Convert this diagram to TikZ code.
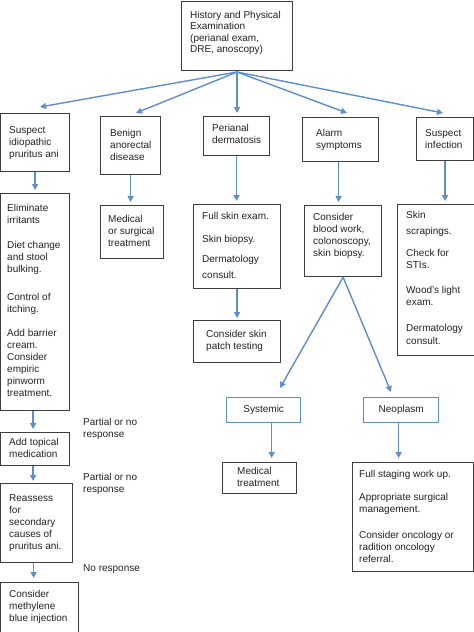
\documentclass[tikz,border=0pt]{standalone}
\usepackage{fontspec}
\setmainfont{Liberation Sans}
\usetikzlibrary{arrows.meta,calc}
\definecolor{arrblue}{RGB}{94,142,204}
\definecolor{bordgray}{RGB}{62,62,62}
\definecolor{txtgray}{RGB}{35,35,35}
\begin{document}
\begin{tikzpicture}[x=1pt,y=-1pt,
  bx/.style={draw=bordgray,line width=1.2pt,inner sep=0pt,anchor=north west},
  bbx/.style={draw=arrblue,line width=1.4pt,inner sep=0pt,anchor=north west},
  txt/.style={anchor=north west,inner sep=0pt,align=left,text=txtgray,font=\fontsize{10}{12}\selectfont},
  ctxt/.style={anchor=center,inner sep=0pt,text=txtgray,font=\fontsize{10}{12}\selectfont},
  arr/.style={draw=arrblue,line width=1.4pt,-{Triangle[length=6pt,width=6pt]}}]
\useasboundingbox (0,0) rectangle (474,632);
\fill[white] (0,0) rectangle (474,632);

% top
\node[bx,minimum width=111pt,minimum height=69pt] (top) at (181,0.6) {};
\node[txt,font=\fontsize{10}{11.3}\selectfont] (ttop) at (190,11) {History and Physical\\Examination\\(perianal exam,\\DRE, anoscopy)};
\coordinate (hub) at (237,72);

% row 1
\node[bx,minimum width=69pt,minimum height=58pt] (idio) at (0,113) {};
\node[txt] (tidio) at (9,126) {Suspect\\idiopathic\\pruritus ani};
\node[bx,minimum width=60pt,minimum height=58pt] (benign) at (100,116) {};
\node[txt] (tbenign) at (110,129) {Benign\\anorectal\\disease};
\node[bx,minimum width=66pt,minimum height=39pt] (peri) at (203,116) {};
\node[txt] (tperi) at (212,124) {Perianal\\dermatosis};
\node[bx,minimum width=76pt,minimum height=44pt] (alarm) at (302,117) {};
\node[txt] (talarm) at (316,129) {Alarm\\symptoms};
\node[bx,minimum width=57pt,minimum height=43pt] (infect) at (416,117) {};
\node[txt] (tinfect) at (425,129) {Suspect\\infection};

\coordinate (e1) at (40,107);
\coordinate (e2) at (136,113);
\coordinate (e3) at (237,113);
\coordinate (e4) at (347,113);
\coordinate (e5) at (443,113);
\foreach \e in {e1,e2,e3,e4,e5} \draw[arr] (hub) -- (\e);

% row 2
\node[bx,minimum width=69pt,minimum height=217pt] (elim) at (0,193) {};
\node[txt] (telim) at (7,204) {Eliminate\\irritants\\[13pt]Diet change\\and stool\\bulking.\\[16pt]Control of\\itching.\\[12pt]Add barrier\\cream.\\Consider\\empiric\\pinworm\\treatment.};
\node[bx,minimum width=63pt,minimum height=53pt] (medsurg) at (100,205) {};
\node[txt] (tmedsurg) at (108,215) {Medical\\or surgical\\treatment};
\node[bx,minimum width=87pt,minimum height=84pt] (fullskin) at (193,204) {};
\node[txt] (tfullskin) at (202,212) {Full skin exam.\\[11pt]Skin biopsy.\\[8pt]Dermatology\\[4pt]consult.};
\node[bx,minimum width=77pt,minimum height=71pt] (blood) at (304,205) {};
\node[txt] (tblood) at (313,213) {Consider\\blood work,\\colonoscopy,\\skin biopsy.};
\node[bx,minimum width=77pt,minimum height=151pt] (scrap) at (397,204) {};
\node[txt] (tscrap) at (406,211) {Skin\\[4pt]scrapings.\\[10pt]Check for\\STIs.\\[13pt]Wood's light\\exam.\\[14pt]Dermatology\\[1pt]consult.};
\node[bx,minimum width=87pt,minimum height=42pt] (patch) at (193,320) {};
\node[txt] (tpatch) at (206,330) {Consider skin\\patch testing};

\draw[arr] (idio.south) -- ([yshift=3pt]elim.north);
\draw[arr] (benign.south) -- ([yshift=3pt]benign.south |- medsurg.north);
\draw[arr] (peri.south) -- ([yshift=3pt]peri.south |- fullskin.north);
\draw[arr] ([xshift=-2pt]alarm.south) -- ([xshift=-2pt,yshift=3pt]alarm.south |- blood.north);
\draw[arr] (infect.south) -- ([yshift=3pt]infect.south |- scrap.north);
\draw[arr] (fullskin.south) -- ([yshift=2pt]fullskin.south |- patch.north);

% systemic / neoplasm
\node[bbx,minimum width=74pt,minimum height=25pt] (sys) at (226,397) {};
\node[ctxt] (tsys) at (sys.center) {Systemic};
\node[bbx,minimum width=75pt,minimum height=25pt] (neo) at (363,397) {};
\node[ctxt] (tneo) at (neo.center) {Neoplasm};
\coordinate (asys) at (280,388);
\coordinate (aneo) at (391,392);
\draw[arr] (blood.south) -- (asys);
\draw[arr] (blood.south) -- (aneo);

\node[bx,minimum width=74pt,minimum height=31pt] (medtreat) at (222,462) {};
\node[txt] (tmedtreat) at (237,467) {Medical\\treatment};
\node[bx,minimum width=121pt,minimum height=109pt] (staging) at (352,462) {};
\node[txt] (tstaging) at (359,470) {Full staging work up.\\[11pt]Appropriate surgical\\management.\\[14pt]Consider oncology or\\radition oncology\\referral.};
\draw[arr] ([xshift=8pt]sys.south) -- ([xshift=8pt,yshift=4pt]sys.south |- medtreat.north);
\draw[arr] ([xshift=-2.5pt]neo.south) -- ([xshift=-2.5pt,yshift=4pt]neo.south |- staging.north);

% left lower
\node[bx,minimum width=69pt,minimum height=33pt] (topical) at (0,432) {};
\node[txt] (ttopical) at (9,438) {Add topical\\medication};
\node[bx,minimum width=72pt,minimum height=79pt] (reassess) at (0,483) {};
\node[txt] (treassess) at (9,494) {Reassess\\for\\secondary\\causes of\\pruritus ani.};
\node[bx,minimum width=78pt,minimum height=50pt] (methyl) at (0,582) {};
\node[txt] (tmethyl) at (9,590) {Consider\\methylene\\blue injection};

\node[txt] (lab1) at (83,418) {Partial or no\\response};
\node[txt] (lab2) at (83,473) {Partial or no\\response};
\node[txt] (lab3) at (83,564) {No response};

\draw[arr] ([xshift=-2pt]elim.south) -- ([xshift=-2pt,yshift=3pt]elim.south |- topical.north);
\draw[arr] ([xshift=-2pt]topical.south) -- ([xshift=-2pt,yshift=2pt]topical.south |- reassess.north);
\draw[arr] ([xshift=-3pt]reassess.south) -- ([xshift=-3pt,yshift=4pt]reassess.south |- methyl.north);
\end{tikzpicture}
\end{document}
